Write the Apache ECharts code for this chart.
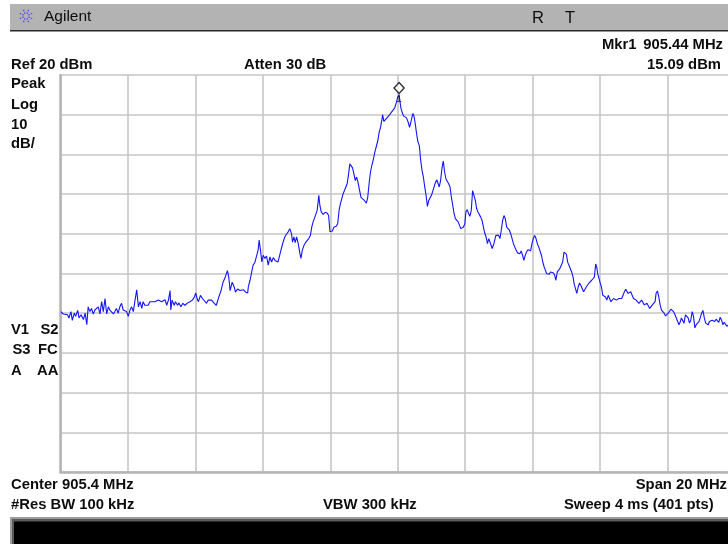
<!DOCTYPE html>
<html><head><meta charset="utf-8">
<script src="https://cdn.jsdelivr.net/npm/echarts@6/dist/echarts.min.js"></script>
<style>html,body{margin:0;padding:0;background:#fff;overflow:hidden}#c{width:728px;height:544px}</style>
</head><body><div id="c"></div>
<script>
// ---- instrument settings ----
const centerMHz = 905.4;
const spanMHz = 20;
const refLevelDbm = 20;
const dbPerDiv = 10;
const divisions = 10;
const markerMHz = 905.44;
const markerDbm = 15.09;

// ---- trace points: [frequency MHz, level dBm] ----
const traceLowSide = [
[895.41,-39.6],[895.48,-40.2],[895.53,-39.8],[895.61,-40.4],[895.65,-41.2],[895.71,-39.6],[895.75,-41.8],[895.81,-40.0],[895.85,-40.8],[895.91,-39.3],
[895.95,-41.2],[896.01,-40.4],[896.08,-41.6],[896.13,-40.0],[896.18,-42.9],[896.22,-38.4],[896.27,-39.6],[896.32,-38.8],[896.37,-40.2],[896.42,-39.2],
[896.47,-39.6],[896.52,-38.4],[896.57,-40.2],[896.62,-37.1],[896.67,-39.6],[896.72,-36.3],[896.77,-40.2],[896.82,-38.4],[896.87,-39.3],[896.92,-39.2],
[896.97,-40.2],[897.01,-39.6],[897.06,-38.8],[897.11,-40.0],[897.16,-38.4],[897.21,-37.5],[897.26,-39.2],[897.31,-38.8],[897.36,-39.6],[897.41,-40.8],
[897.46,-39.2],[897.51,-38.4],[897.56,-39.6],[897.61,-36.7],[897.66,-34.1],[897.71,-38.4],[897.76,-37.1],[897.81,-38.8],[897.85,-37.1],[897.90,-38.0],
[897.95,-37.5],[898.00,-38.0],[898.05,-37.1],[898.10,-37.5],[898.20,-37.1],[898.25,-37.5],[898.30,-36.7],[898.35,-36.3],[898.40,-37.1],[898.45,-36.7],
[898.50,-36.6],[898.55,-38.0],[898.60,-36.7],[898.65,-34.3],[898.67,-39.2],[898.71,-36.7],[898.77,-38.0],[898.81,-37.1],[898.87,-38.0],[898.91,-37.4],
[898.97,-38.4],[899.03,-37.5],[899.09,-38.0],[899.17,-37.4],[899.24,-37.1],[899.31,-36.7],[899.37,-35.9],[899.41,-34.9],[899.45,-36.3],[899.49,-37.1],
[899.55,-35.5],[899.61,-36.3],[899.66,-36.7],[899.73,-37.5],[899.78,-36.7],[899.83,-36.3],[899.88,-36.7],[899.96,-37.5],[900.02,-38.0],[900.08,-36.3],
[900.16,-34.3],[900.22,-32.2],[900.29,-30.8],[900.35,-29.3],[900.39,-31.0],[900.43,-34.3],[900.49,-32.2],[900.55,-33.4],[900.59,-34.7],[900.65,-33.9],
[900.72,-34.3],[900.77,-34.7],[900.83,-34.1],[900.89,-34.7],[900.95,-34.9]
];
const traceRise = [
[900.97,-33.3],[901.02,-31.7],[901.07,-29.6],[901.11,-27.9],[901.16,-27.3],[901.21,-27.1],[901.26,-24.1],[901.29,-21.6],[901.33,-24.1],[901.37,-27.1],
[901.41,-25.4],[901.46,-26.2],[901.51,-25.6],[901.56,-27.9],[901.61,-25.8],[901.66,-27.1],[901.71,-26.0],[901.76,-26.7],[901.81,-26.2],[901.85,-27.1],
[901.90,-25.4],[901.95,-23.7],[902.00,-22.1],[902.05,-20.8],[902.10,-20.1],[902.15,-19.5],[902.20,-18.7],[902.22,-18.3],[902.25,-20.0],[902.28,-22.1],
[902.32,-20.8],[902.36,-22.2],[902.40,-20.8],[902.45,-22.5],[902.50,-25.0],[902.53,-26.2],[902.57,-24.1],[902.62,-22.9],[902.66,-22.3],[902.71,-22.5],
[902.76,-21.2],[902.81,-20.4],[902.85,-18.3],[902.89,-17.0],[902.95,-15.6],[903.01,-14.1],[903.06,-10.3],[903.09,-12.8],[903.13,-14.5],[903.19,-15.1],
[903.25,-14.6],[903.31,-14.8],[903.35,-15.4],[903.39,-19.5],[903.43,-19.8],[903.46,-19.3],[903.51,-18.3],[903.54,-18.7],[903.58,-18.1],[903.62,-17.4],
[903.66,-14.1],[903.70,-12.4],[903.74,-11.2],[903.78,-9.9],[903.82,-9.1],[903.86,-8.7],[903.90,-7.4],[903.94,-5.1],[903.98,-2.4],[904.02,-2.0],
[904.06,-3.4],[904.10,-4.9],[904.14,-6.6],[904.18,-5.7],[904.22,-7.0],[904.27,-9.1],[904.31,-10.8],[904.35,-11.2],[904.41,-11.6],[904.47,-12.3],
[904.51,-10.8],[904.55,-7.4],[904.59,-4.5],[904.63,-2.8],[904.67,-1.5],[904.72,0.5],[904.77,1.0],[904.81,3.5],[904.85,5.6],[904.89,6.8],
[904.93,8.7],[904.95,10.0],[904.99,8.3],[905.03,8.7],[905.08,9.2],[905.11,9.7],[905.16,10.0],[905.21,10.6],[905.26,11.0],[905.31,11.7],
[905.36,13.1],[905.40,14.4],[905.44,15.09]
];
const traceFall = [
[905.49,11.8],[905.53,10.6],[905.57,9.7],[905.61,9.5],[905.66,9.2],[905.71,8.1],[905.75,6.8],[905.79,8.1],[905.82,9.3],[905.85,10.3],
[905.88,9.7],[905.92,7.7],[905.96,5.1],[906.00,3.1],[906.04,2.2],[906.08,-1.5],[906.12,-4.0],[906.16,-5.7],[906.20,-8.2],[906.24,-10.3],
[906.28,-13.1],[906.32,-11.6],[906.36,-10.9],[906.40,-10.3],[906.44,-9.9],[906.48,-8.1],[906.52,-7.0],[906.56,-6.4],[906.60,-6.7],[906.63,-8.2],
[906.67,-6.6],[906.71,-3.6],[906.75,-1.7],[906.79,-4.5],[906.83,-6.2],[906.87,-6.4],[906.91,-7.4],[906.95,-8.2],[906.99,-10.8],[907.03,-12.8],
[907.07,-14.9],[907.11,-16.2],[907.15,-16.6],[907.19,-17.0],[907.23,-17.4],[907.27,-18.7],[907.31,-18.7],[907.35,-18.3],[907.39,-17.4],[907.42,-14.5],
[907.46,-13.9],[907.50,-14.9],[907.54,-15.6],[907.58,-14.1],[907.62,-9.1],[907.66,-9.5],[907.70,-11.6],[907.74,-13.7],[907.78,-14.5],[907.82,-14.9],
[907.86,-15.8],[907.90,-16.6],[907.94,-18.3],[907.98,-19.8],[908.02,-20.8],[908.06,-22.5],[908.10,-21.2],[908.14,-21.5],[908.20,-23.7],[908.25,-22.5],
[908.31,-20.4],[908.35,-20.0],[908.39,-20.4],[908.43,-21.2],[908.47,-19.1],[908.51,-16.6],[908.55,-15.4],[908.59,-16.2],[908.63,-18.3],[908.67,-18.7],
[908.71,-19.1],[908.75,-20.0],[908.79,-21.2],[908.83,-22.5],[908.87,-23.3],[908.91,-24.1],[908.95,-24.8],[908.98,-24.6],[909.02,-25.0],[909.06,-24.3],
[909.10,-25.4],[909.14,-26.7],[909.18,-25.4],[909.22,-24.6],[909.26,-24.0],[909.30,-24.1],[909.34,-24.3],[909.38,-22.5],[909.42,-21.2],[909.46,-20.4],
[909.50,-21.2],[909.54,-22.5],[909.58,-23.3],[909.62,-23.7],[909.66,-25.4],[909.70,-27.1],[909.74,-28.3],[909.78,-29.2],[909.81,-30.0],[909.85,-29.8],
[909.89,-30.2],[909.93,-29.6],[909.97,-29.3],[910.01,-29.8],[910.05,-30.4],[910.09,-31.7],[910.13,-29.6],[910.17,-29.2],[910.21,-28.7],[910.25,-28.3],
[910.29,-27.1],[910.33,-24.6]
];
const traceHighSide = [
[910.37,-24.1],[910.40,-25.1],[910.44,-27.2],[910.48,-28.0],[910.52,-28.4],[910.56,-29.7],[910.60,-30.9],[910.63,-32.6],[910.67,-33.8],[910.71,-35.0],
[910.75,-33.4],[910.79,-32.4],[910.83,-33.0],[910.87,-33.8],[910.91,-34.6],[910.95,-34.2],[910.99,-33.4],[911.03,-33.0],[911.07,-32.4],[911.11,-32.4],
[911.15,-31.7],[911.19,-32.1],[911.23,-30.9],[911.27,-27.6],[911.30,-28.4],[911.33,-30.1],[911.37,-31.3],[911.41,-32.6],[911.44,-33.4],[911.48,-35.5],
[911.52,-35.0],[911.56,-35.9],[911.60,-36.7],[911.64,-35.5],[911.68,-36.3],[911.72,-37.1],[911.76,-37.4],[911.80,-36.3],[911.84,-35.9],[911.88,-36.7],
[911.92,-36.5],[911.96,-36.3],[912.00,-35.9],[912.04,-36.3],[912.08,-35.5],[912.12,-34.6],[912.16,-34.0],[912.20,-33.8],[912.23,-35.0],[912.27,-35.5],
[912.31,-34.6],[912.35,-35.5],[912.39,-36.3],[912.43,-35.9],[912.47,-36.7],[912.51,-36.3],[912.55,-37.5],[912.59,-37.9],[912.63,-36.7],[912.67,-36.3],
[912.71,-37.9],[912.75,-38.3],[912.79,-37.5],[912.83,-37.1],[912.87,-38.8],[912.91,-39.2],[912.95,-37.9],[912.99,-38.3],[913.03,-37.1],[913.06,-35.0],
[913.10,-34.4],[913.14,-35.9],[913.18,-37.9],[913.22,-39.2],[913.26,-39.6],[913.30,-40.0],[913.34,-40.7],[913.38,-40.4],[913.42,-40.0],[913.46,-39.6],
[913.50,-39.0],[913.54,-38.5],[913.58,-39.6],[913.62,-40.4],[913.66,-41.2],[913.70,-42.1],[913.74,-42.9],[913.78,-42.1],[913.81,-41.2],[913.85,-41.7],
[913.89,-42.5],[913.93,-40.4],[913.97,-40.0],[914.01,-41.2],[914.05,-42.5],[914.09,-41.7],[914.13,-39.6],[914.17,-40.8],[914.21,-43.7],[914.25,-42.9],
[914.29,-42.5],[914.33,-42.1],[914.37,-41.2],[914.41,-40.0],[914.45,-39.3],[914.49,-41.2],[914.53,-42.5],[914.57,-42.1],[914.61,-42.9],[914.64,-42.1],
[914.68,-41.7],[914.72,-41.8],[914.76,-41.5],[914.80,-42.1],[914.84,-41.5],[914.88,-41.8],[914.92,-42.3],[914.96,-41.0],[915.00,-41.7],[915.04,-42.9],
[915.08,-42.3],[915.12,-42.5],[915.16,-43.3],[915.25,-42.6],[915.40,-42.9]
];

// ---- build chart ----
const trace = traceLowSide.concat(traceRise, traceFall, traceHighSide);
const halfSpan = spanMHz / 2;
const mhzPerDiv = spanMHz / divisions;
const seriesData = trace.map(p => [+(p[0] - centerMHz).toFixed(3), p[1]]);
const markerPoint = [+(markerMHz - centerMHz).toFixed(3), markerDbm];

const FONT = "'Liberation Sans', Arial, sans-serif";
const txt = (text, x, y, align, size, weight) => ({
  type: 'text', silent: true,
  style: { text, x, y, fill: '#0d0d0d', font: (weight || 'bold') + ' ' + (size || 14.8) + 'px ' + FONT,
           textAlign: align || 'left', textVerticalAlign: 'middle', align: align || 'left', verticalAlign: 'middle' }
});

// Agilent starburst logo
const star = [];
for (let i = 0; i < 8; i++) {
  const a = i * Math.PI / 4 + Math.PI / 8;
  star.push({ type: 'line', silent: true,
    shape: { x1: 26 + 2.5 * Math.cos(a), y1: 16 + 2.5 * Math.sin(a), x2: 26 + 7.5 * Math.cos(a), y2: 16 + 7.5 * Math.sin(a) },
    style: { stroke: '#5a4cf2', lineWidth: 1.3, lineDash: [1.5, 1.2] } });
}

const chart = echarts.init(document.getElementById('c'), null, { renderer: 'canvas' });
chart.setOption({
  backgroundColor: '#ffffff',
  animation: false,
  grid: { left: 60.5, top: 75, width: 674.5, height: 397, outerBoundsMode: 'none', containLabel: false },
  xAxis: {
    type: 'value', min: -halfSpan, max: halfSpan, interval: mhzPerDiv,
    axisLabel: { show: false }, axisTick: { show: false },
    axisLine: { show: true, onZero: false, lineStyle: { color: '#b4b4b4', width: 2.5 } },
    splitLine: { show: true, lineStyle: { color: '#c6c6c6', width: 1.6 } }
  },
  yAxis: {
    type: 'value', min: refLevelDbm - dbPerDiv * divisions, max: refLevelDbm, interval: dbPerDiv,
    axisLabel: { show: false }, axisTick: { show: false },
    axisLine: { show: true, onZero: false, lineStyle: { color: '#b4b4b4', width: 2.5 } },
    splitLine: { show: true, lineStyle: { color: '#c6c6c6', width: 1.6 } }
  },
  series: [
    { type: 'line', data: seriesData, showSymbol: false, symbol: 'none', clip: true,
      lineStyle: { color: '#1414ff', width: 1.1 }, z: 3 },
    { type: 'scatter', data: [markerPoint],
      symbol: 'diamond', symbolSize: [10, 11], symbolOffset: [0, -6.5],
      itemStyle: { color: '#ffffff', borderColor: '#000', borderWidth: 1.5 }, z: 5 },
    { type: 'scatter', data: [markerPoint], symbol: 'circle', symbolSize: 1,
      itemStyle: { color: 'rgba(0,0,0,0)' }, z: 6,
      label: { show: true, formatter: '1', position: 'bottom', distance: 0, offset: [0, -2],
               color: '#1a1a1a', fontSize: 9, fontWeight: 'bold', fontFamily: FONT },
      labelLayout: { hideOverlap: false } }
  ],
  graphic: [
    { type: 'rect', silent: true, shape: { x: 10, y: 4, width: 718, height: 26 }, style: { fill: '#b3b3b3' } },
    { type: 'rect', silent: true, shape: { x: 10, y: 30, width: 718, height: 1.5 }, style: { fill: '#2a2a2a' } },
    ...star,
    txt('Agilent', 44, 17, 'left', 15.5, 'normal'),
    txt('R', 532, 18, 'left', 16.5, 'normal'),
    txt('T', 565, 18, 'left', 16.5, 'normal'),
    txt('Mkr1', 602, 44.5),
    txt(markerMHz.toFixed(2) + ' MHz', 723, 44.5, 'right'),
    txt(markerDbm.toFixed(2) + ' dBm', 721, 64.5, 'right'),
    txt('Ref ' + refLevelDbm + ' dBm', 11, 64.5),
    txt('Atten 30 dB', 244, 64.5),
    txt('Peak', 11, 84),
    txt('Log', 11, 104.5),
    txt(String(dbPerDiv), 11, 124.5),
    txt('dB/', 11, 144),
    txt('V1', 11, 330), txt('S2', 40.5, 330),
    txt('S3', 12.5, 350), txt('FC', 38, 350),
    txt('A', 11, 370.5), txt('AA', 37, 370.5),
    txt('Center ' + centerMHz + ' MHz', 11, 485),
    txt('Span ' + spanMHz + ' MHz', 727, 485, 'right'),
    txt('#Res BW 100 kHz', 11, 505),
    txt('VBW 300 kHz', 323, 505),
    txt('Sweep 4 ms (401 pts)', 564, 505),
    { type: 'rect', silent: true, shape: { x: 10, y: 517, width: 718, height: 27 }, style: { fill: '#9c9c9c' } },
    { type: 'rect', silent: true, shape: { x: 12, y: 519, width: 716, height: 25 }, style: { fill: '#5a5a5a' } },
    { type: 'rect', silent: true, shape: { x: 14, y: 521.5, width: 714, height: 23 }, style: { fill: '#000000' } }
  ]
});
</script>
</body></html>
